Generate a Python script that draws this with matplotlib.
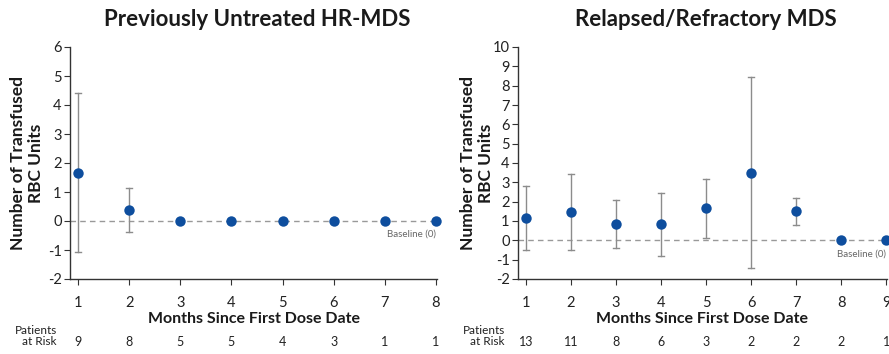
import matplotlib
matplotlib.use("Agg")
import matplotlib.pyplot as plt
import numpy as np

plt.rcParams['font.family'] = ['Lato', 'DejaVu Sans']
plt.rcParams['axes.unicode_minus'] = False

# Previously untreated HR-MDS
months_a = [1, 2, 3, 4, 5, 6, 7, 8]
mean_a = [1.66, 0.38, 0, 0, 0, 0, 0, 0]
low_a = [-1.07, -0.37, None, None, None, None, None, None]
high_a = [4.40, 1.13, None, None, None, None, None, None]
risk_a = [9, 8, 5, 5, 4, 3, 1, 1]

# Relapsed/refractory MDS
months_b = [1, 2, 3, 4, 5, 6, 7, 8, 9]
mean_b = [1.14, 1.45, 0.86, 0.83, 1.66, 3.48, 1.50, 0, 0]
low_b = [-0.48, -0.52, -0.40, -0.79, 0.14, -1.45, 0.79, None, None]
high_b = [2.79, 3.41, 2.09, 2.43, 3.19, 8.45, 2.19, None, None]
risk_b = [13, 11, 8, 6, 3, 2, 2, 2, 1]

titles = ["Previously Untreated HR-MDS", "Relapsed/Refractory MDS"]
ylabel = "Number of Transfused\nRBC Units"
xlabel = "Months Since First Dose Date"

W, H = 889, 354
fig = plt.figure(figsize=(W / 100, H / 100), dpi=100)

DOT = "#0e4e9e"
GREY = "#8c8c8c"
AXC = "#333333"

panels = [
    dict(x0=70, x1=437, xlim=(0.844, 8.02), ylim=(-2, 6), months=months_a,
         mean=mean_a, low=low_a, high=high_a, risk=risk_a, title=titles[0],
         base_y=-0.46, ylabx=27, riskx=57),
    dict(x0=518, x1=887, xlim=(0.822, 9.02), ylim=(-2, 10), months=months_b,
         mean=mean_b, low=low_b, high=high_b, risk=risk_b, title=titles[1],
         base_y=-0.71, ylabx=477, riskx=505),
]

top_px, bot_px = 47, 279
for p in panels:
    ax = fig.add_axes([p['x0'] / W, 1 - bot_px / H, (p['x1'] - p['x0']) / W,
                       (bot_px - top_px) / H])
    ax.set_xlim(*p['xlim'])
    ax.set_ylim(*p['ylim'])
    for s in ['top', 'right']:
        ax.spines[s].set_visible(False)
    for s in ['left', 'bottom']:
        ax.spines[s].set_color(AXC)
        ax.spines[s].set_linewidth(1.0)
    ax.set_xticks(p['months'])
    ax.set_yticks(np.arange(p['ylim'][0], p['ylim'][1] + 1, 1))
    ax.tick_params(axis='both', colors=AXC, labelcolor='#222222',
                   labelsize=10.5, length=4, width=0.8)
    ax.tick_params(axis='x', pad=8)
    ax.tick_params(axis='y', pad=2)

    ax.axhline(0, color='#999999', lw=1.0, ls=(0, (4, 3)), zorder=1)

    # error bars where a spread exists
    for m, lo, hi in zip(p['months'], p['low'], p['high']):
        if lo is None:
            continue
        ax.plot([m, m], [lo, hi], color=GREY, lw=1.0, zorder=2, clip_on=False)
        for yv in (lo, hi):
            ax.plot([m - 0.06, m + 0.06], [yv, yv], color=GREY, lw=1.0,
                    zorder=2, clip_on=False)
    ax.plot(p['months'], p['mean'], 'o', color=DOT, ms=7.5, zorder=3,
            clip_on=False, markeredgewidth=0)

    ax.text(p['months'][-1], p['base_y'], "Baseline (0)", ha='right',
            va='center', fontsize=7, color='#666666')

    cx = (p['x0'] + p['x1']) / 2 / W
    fig.text(cx + 0.004, 1 - 20 / H, p['title'], ha='center', va='center',
             fontsize=16, fontweight='bold', color='#1a1a1a')
    fig.text(p['ylabx'] / W, 1 - 163 / H, ylabel, ha='center', va='center',
             rotation=90, fontsize=12.5, fontweight='bold', color='#1a1a1a',
             linespacing=1.15)
    fig.text(cx, 1 - 319 / H, xlabel, ha='center', va='center',
             fontsize=11.5, fontweight='bold', color='#1a1a1a')

    # patients at risk row
    fig.text(p['riskx'] / W, 1 - 336 / H, "Patients\nat Risk", ha='right',
             va='center', fontsize=8.5, color='#222222', linespacing=1.1,
             multialignment='right')
    for m, r in zip(p['months'], p['risk']):
        xf = ax.transData.transform((m, 0))[0] / W
        fig.text(xf, 1 - 342 / H, str(r), ha='center', va='center',
                 fontsize=9, color='#222222')

fig.savefig("out.png", dpi=100)
